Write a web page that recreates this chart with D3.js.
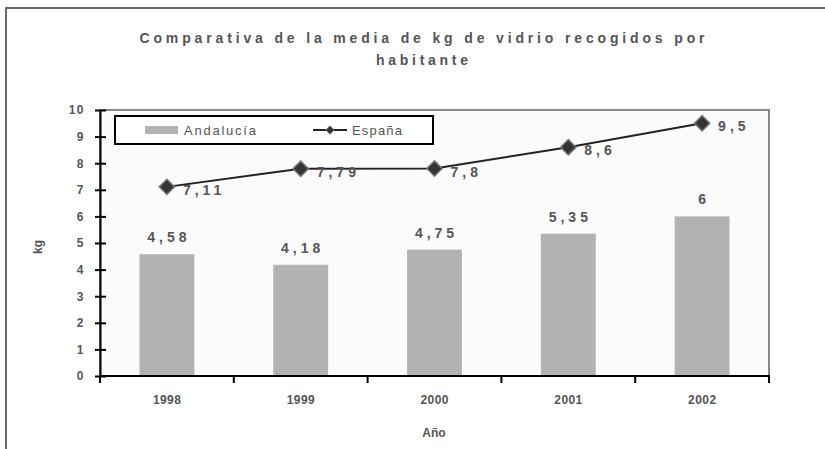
<!DOCTYPE html>
<html>
<head>
<meta charset="utf-8">
<script src="https://cdn.jsdelivr.net/npm/d3@7"></script>
<style>
  body { margin: 0; background: #fff; }
  text { font-family: "Liberation Sans", Arial, sans-serif; fill: #555; }
</style>
</head>
<body>
<svg id="chart" width="825" height="449"></svg>
<script>
// data
const years = ["1998", "1999", "2000", "2001", "2002"];
const andalucia = [4.58, 4.18, 4.75, 5.35, 6];
const espana = [7.11, 7.79, 7.8, 8.6, 9.5];
const yTicks = [0, 1, 2, 3, 4, 5, 6, 7, 8, 9, 10];

const fmt = v => String(v).replace(".", ",");

const svg = d3.select("svg#chart");
const plot = { left: 100, right: 769, top: 110, bottom: 376 };

// outer frame (runs off the right and bottom edge)
svg.append("rect")
  .attr("x", 6).attr("y", 8)
  .attr("width", 900).attr("height", 600)
  .attr("fill", "#fff")
  .attr("stroke", "#666")
  .attr("stroke-width", 2);

// title
svg.append("text")
  .attr("x", 422).attr("y", 43)
  .attr("text-anchor", "middle")
  .attr("font-size", 14).attr("font-weight", "bold")
  .attr("textLength", 565).attr("lengthAdjust", "spacing")
  .text("Comparativa de la media de kg de vidrio recogidos por");
svg.append("text")
  .attr("x", 422).attr("y", 65)
  .attr("text-anchor", "middle")
  .attr("font-size", 14).attr("font-weight", "bold")
  .attr("textLength", 92).attr("lengthAdjust", "spacing")
  .text("habitante");

const x = d3.scaleBand()
  .domain(years)
  .range([plot.left, plot.right])
  .paddingInner(0.59)
  .paddingOuter(0.295);

const y = d3.scaleLinear()
  .domain([0, 10])
  .range([plot.bottom, plot.top]);

// plot area
svg.append("rect")
  .attr("x", plot.left).attr("y", plot.top)
  .attr("width", plot.right - plot.left)
  .attr("height", plot.bottom - plot.top)
  .attr("fill", "#fbfbfb")
  .attr("stroke", "#888")
  .attr("stroke-width", 2);

// bars
svg.append("g").selectAll("rect.bar")
  .data(andalucia)
  .enter()
  .append("rect")
  .attr("class", "bar")
  .attr("x", (d, i) => x(years[i]))
  .attr("y", d => y(d))
  .attr("width", x.bandwidth())
  .attr("height", d => y(0) - y(d))
  .attr("fill", "#b2b2b2");

svg.append("g").selectAll("text.barlabel")
  .data(andalucia)
  .enter()
  .append("text")
  .attr("class", "barlabel")
  .attr("x", (d, i) => x(years[i]) + x.bandwidth() / 2 + 2)
  .attr("y", d => y(d) - 12)
  .attr("text-anchor", "middle")
  .attr("font-family", "DejaVu Sans")
  .attr("font-size", 14).attr("font-weight", "bold")
  .attr("letter-spacing", 4)
  .text(fmt);

// y axis
const yAxis = svg.append("g")
  .attr("transform", `translate(${plot.left},0)`)
  .call(d3.axisLeft(y).tickValues(yTicks).tickSize(6).tickPadding(9));
yAxis.selectAll(".tick line").attr("x2", -5).attr("x1", 6).attr("stroke", "#000").attr("stroke-width", 2);
yAxis.select(".domain").attr("stroke", "#000").attr("stroke-width", 2)
  .attr("d", `M0.5,${plot.top}V${plot.bottom}`);
yAxis.selectAll("text")
  .attr("font-size", 12).attr("font-weight", "bold")
  .attr("letter-spacing", 1.5)
  .attr("fill", "#444")
  .attr("font-family", "Liberation Sans, Arial, sans-serif");

// x axis
const xEdges = d3.range(years.length + 1).map(i => plot.left + i * x.step());
const xAxis = svg.append("g");
xAxis.append("line")
  .attr("x1", plot.left).attr("x2", plot.right + 1)
  .attr("y1", plot.bottom).attr("y2", plot.bottom)
  .attr("stroke", "#000").attr("stroke-width", 2);
xAxis.selectAll("line.tick")
  .data(xEdges)
  .enter()
  .append("line")
  .attr("class", "tick")
  .attr("x1", d => d).attr("x2", d => d)
  .attr("y1", plot.bottom).attr("y2", plot.bottom + 7)
  .attr("stroke", "#000").attr("stroke-width", 2);
xAxis.selectAll("text")
  .data(years)
  .enter()
  .append("text")
  .attr("x", d => x(d) + x.bandwidth() / 2)
  .attr("y", plot.bottom + 28)
  .attr("text-anchor", "middle")
  .attr("font-size", 12).attr("font-weight", "bold")
  .attr("textLength", 28).attr("lengthAdjust", "spacing")
  .text(d => d);

// axis titles
svg.append("text")
  .attr("x", 434).attr("y", 437)
  .attr("text-anchor", "middle")
  .attr("font-size", 12).attr("font-weight", "bold")
  .text("Año");
svg.append("text")
  .attr("transform", "translate(42,247) rotate(-90)")
  .attr("text-anchor", "middle")
  .attr("font-size", 12).attr("font-weight", "bold")
  .text("kg");

// España line
const cx = i => x(years[i]) + x.bandwidth() / 2;
const line = d3.line()
  .x((d, i) => cx(i))
  .y(d => y(d));
svg.append("path")
  .datum(espana)
  .attr("d", line)
  .attr("fill", "none")
  .attr("stroke", "#222")
  .attr("stroke-width", 2);

const diamond = d3.symbol().type(d3.symbolDiamond2).size(150);
svg.append("g").selectAll("path.marker")
  .data(espana)
  .enter()
  .append("path")
  .attr("class", "marker")
  .attr("d", diamond)
  .attr("transform", (d, i) => `translate(${cx(i)},${y(d)})`)
  .attr("fill", "#333")
  .attr("stroke", "#777")
  .attr("stroke-width", 1.5);

svg.append("g").selectAll("text.linelabel")
  .data(espana)
  .enter()
  .append("text")
  .attr("class", "linelabel")
  .attr("x", (d, i) => cx(i) + 16)
  .attr("y", d => y(d) + 8)
  .attr("font-family", "DejaVu Sans")
  .attr("font-size", 14).attr("font-weight", "bold")
  .attr("letter-spacing", 4)
  .text(fmt);

// legend
const legend = svg.append("g");
legend.append("rect")
  .attr("x", 115).attr("y", 116)
  .attr("width", 318).attr("height", 28)
  .attr("fill", "#fff")
  .attr("stroke", "#000")
  .attr("stroke-width", 2);
legend.append("rect")
  .attr("x", 145).attr("y", 126)
  .attr("width", 33).attr("height", 8)
  .attr("fill", "#b2b2b2");
legend.append("text")
  .attr("x", 184).attr("y", 135)
  .attr("font-size", 13)
  .attr("textLength", 72).attr("lengthAdjust", "spacing")
  .text("Andalucía");
legend.append("line")
  .attr("x1", 313).attr("x2", 347)
  .attr("y1", 130).attr("y2", 130)
  .attr("stroke", "#222").attr("stroke-width", 2);
legend.append("path")
  .attr("d", d3.symbol().type(d3.symbolDiamond2).size(45))
  .attr("transform", "translate(330,130)")
  .attr("fill", "#333")
  .attr("stroke", "#777")
  .attr("stroke-width", 1);
legend.append("text")
  .attr("x", 352).attr("y", 135)
  .attr("font-size", 13)
  .attr("textLength", 50).attr("lengthAdjust", "spacing")
  .text("España");
</script>
</body>
</html>
